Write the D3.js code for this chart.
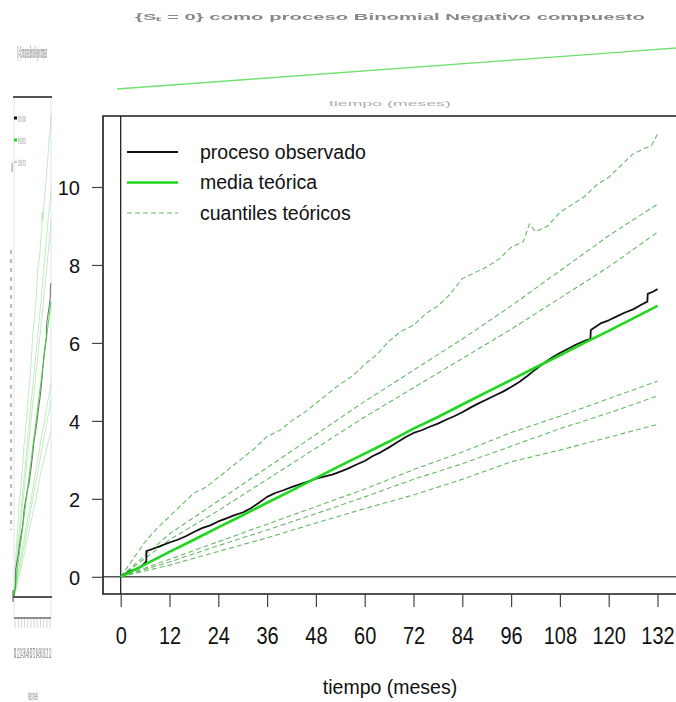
<!DOCTYPE html>
<html>
<head>
<meta charset="utf-8">
<script src="https://cdn.jsdelivr.net/npm/d3@7"></script>
<style>
  html, body { margin: 0; padding: 0; background: #fff; }
  svg { display: block; font-family: "Liberation Sans", Arial, sans-serif; }
</style>
</head>
<body>
<svg id="chart" width="676" height="702"></svg>
<script>
// ---- data -------------------------------------------------------------
const titleText = "{S\u209C = 0} como proceso Binomial Negativo compuesto";
const xLabel = "tiempo (meses)";
const legendLabels = ["proceso observado", "media teórica", "cuantiles teóricos"];

const xTicks = [0, 12, 24, 36, 48, 60, 72, 84, 96, 108, 120, 132];
const yTicks = [0, 2, 4, 6, 8, 10];

// observed counting process (months, accumulated value)
const obsT = [0, 1, 2, 3, 4, 5, 6, 6.3, 6.31, 8, 10, 12, 14, 16, 18, 20, 22, 24, 26, 28, 30, 32, 34, 36,
  38, 40, 42, 44, 46, 48, 50, 52, 54, 56, 58, 60, 62, 64, 66, 68, 70, 72, 74, 76, 78, 80, 82, 84,
  86, 88, 90, 92, 94, 96, 98, 100, 102, 104, 106, 108, 110, 112, 114, 115.5, 115.6, 118, 120, 122,
  124, 126, 128, 129.5, 129.6, 131, 132];
const obsV = [0, 0.07, 0.13, 0.17, 0.2, 0.26, 0.36, 0.4, 0.66, 0.72, 0.8, 0.88, 0.95, 1.04, 1.15, 1.25, 1.32, 1.42, 1.5, 1.58, 1.65, 1.76, 1.9, 2.05,
  2.15, 2.22, 2.3, 2.37, 2.44, 2.52, 2.57, 2.62, 2.7, 2.78, 2.88, 2.97, 3.1, 3.2, 3.32, 3.45, 3.58, 3.69, 3.76, 3.85, 3.93, 4.03, 4.12, 4.22,
  4.34, 4.45, 4.55, 4.65, 4.75, 4.87, 5.0, 5.15, 5.32, 5.48, 5.62, 5.74, 5.85, 5.96, 6.05, 6.1, 6.33, 6.5, 6.58, 6.68,
  6.78, 6.86, 6.98, 7.06, 7.26, 7.32, 7.38];

// theoretical mean
const meanT = [0, 6, 12, 18, 24, 30, 36, 42, 48, 54, 60, 66, 72, 78, 84, 90, 96, 102, 108, 114, 120, 126, 132];
const meanV = [0, 0.32, 0.64, 0.95, 1.27, 1.58, 1.9, 2.21, 2.53, 2.85, 3.16, 3.47, 3.8, 4.1, 4.42, 4.74, 5.05, 5.37, 5.68, 6.0, 6.31, 6.63, 6.95];

// theoretical quantiles, outermost upper band
const qUpT = [0, 3, 6, 9, 12, 15, 18, 21, 24, 27, 30, 33, 36, 39, 42, 45, 48, 51, 54, 57, 60, 63, 66, 69, 72, 75, 78,
  81, 84, 87, 90, 93, 96, 99, 100.5, 102, 105, 108, 111, 114, 117, 120, 123, 126, 129, 130.5, 132];
const qUpV = [0, 0.45, 0.9, 1.25, 1.55, 1.85, 2.15, 2.3, 2.55, 2.8, 3.05, 3.3, 3.6, 3.75, 4.0, 4.2, 4.45, 4.7, 4.95, 5.15, 5.45, 5.7, 6.05, 6.3, 6.45, 6.75, 6.95,
  7.25, 7.65, 7.8, 7.95, 8.15, 8.45, 8.6, 9.05, 8.85, 9.0, 9.35, 9.55, 9.75, 10.05, 10.25, 10.55, 10.85, 11.0, 11.06, 11.36];

// remaining quantile curves, sampled yearly
const qT = [0, 12, 24, 36, 48, 60, 72, 84, 96, 108, 120, 132];
const qUp2 = [0, 1.1, 1.95, 2.8, 3.65, 4.5, 5.3, 6.1, 6.95, 7.85, 8.75, 9.56];
const qUp3 = [0, 0.95, 1.7, 2.5, 3.3, 4.1, 4.85, 5.6, 6.35, 7.15, 7.95, 8.84];
const qLo1 = [0, 0.45, 0.9, 1.35, 1.8, 2.25, 2.75, 3.2, 3.7, 4.12, 4.57, 5.02];
const qLo2 = [0, 0.38, 0.8, 1.2, 1.62, 2.05, 2.5, 2.9, 3.35, 3.8, 4.2, 4.64];
const qLo3 = [0, 0.3, 0.65, 1.0, 1.38, 1.75, 2.1, 2.5, 2.95, 3.25, 3.58, 3.91];

// ---- helpers ----------------------------------------------------------
const zip = (ts, vs) => ts.map((t, i) => [t, vs[i]]);
const observed = zip(obsT, obsV);
const mean = zip(meanT, meanV);
const quantiles = [zip(qUpT, qUpV), zip(qT, qUp2), zip(qT, qUp3), zip(qT, qLo1), zip(qT, qLo2), zip(qT, qLo3)];

const GREEN = "#1ed81e";
const QGREEN = "#68b868";

const svg = d3.select("#chart");
const defs = svg.append("defs");
defs.append("filter").attr("id", "soft").append("feGaussianBlur").attr("stdDeviation", 0.6);
defs.append("filter").attr("id", "softer").append("feGaussianBlur").attr("stdDeviation", 0.35);

// ---- main panel -------------------------------------------------------
const x = d3.scaleLinear().domain([0, 132]).range([120.7, 657.5]);
const y = d3.scaleLinear().domain([0, 10]).range([576.8, 187]);
const box = { left: 103, top: 116, bottom: 594, right: 700 };

const line = (xs, ys) => d3.line().x(d => xs(d[0])).y(d => ys(d[1]));

const main = svg.append("g");

// reference lines at t = 0 and value = 0
main.append("line").attr("x1", box.left).attr("x2", box.right)
  .attr("y1", y(0)).attr("y2", y(0)).attr("stroke", "#555").attr("stroke-width", 1.6);
main.append("line").attr("x1", x(0)).attr("x2", x(0))
  .attr("y1", box.top).attr("y2", box.bottom).attr("stroke", "#111").attr("stroke-width", 1.2);

// quantile bands
main.selectAll("path.q").data(quantiles).join("path")
  .attr("class", "q")
  .attr("d", line(x, y))
  .attr("fill", "none")
  .attr("stroke", QGREEN)
  .attr("stroke-width", 1.1)
  .attr("stroke-dasharray", "5,3");

// observed process
main.append("path").datum(observed)
  .attr("d", line(x, y))
  .attr("fill", "none").attr("stroke", "#111").attr("stroke-width", 1.8)
  .attr("stroke-linejoin", "round");

// theoretical mean
main.append("path").datum(mean)
  .attr("d", line(x, y))
  .attr("fill", "none").attr("stroke", GREEN).attr("stroke-width", 2.6);

// frame (left, top, bottom)
main.append("path")
  .attr("d", `M${box.right},${box.top}H${box.left}V${box.bottom}H${box.right}`)
  .attr("fill", "none").attr("stroke", "#1a1a1a").attr("stroke-width", 1.6);

// x axis
const xAxis = main.append("g").attr("transform", `translate(0,${box.bottom})`)
  .call(d3.axisBottom(x).tickValues(xTicks).tickSize(13).tickPadding(0).tickFormat(d3.format("d")));
xAxis.select(".domain").remove();
xAxis.selectAll(".tick line").attr("stroke", "#444").attr("stroke-width", 1.2);
xAxis.selectAll(".tick text")
  .attr("y", 0).attr("dy", null)
  .attr("transform", "translate(0,50) scale(1,1.18)")
  .attr("fill", "#111")
  .style("font-size", "20px")
  .style("font-family", "'Liberation Sans', Arial, sans-serif");

// y axis
const yAxis = main.append("g").attr("transform", `translate(${box.left},0)`)
  .call(d3.axisLeft(y).tickValues(yTicks).tickSize(11).tickPadding(12).tickFormat(d3.format("d")));
yAxis.select(".domain").remove();
yAxis.selectAll(".tick line").attr("stroke", "#444").attr("stroke-width", 1.2);
yAxis.selectAll(".tick text")
  .attr("dy", "0.36em")
  .attr("fill", "#111")
  .style("font-size", "20px")
  .style("font-family", "'Liberation Sans', Arial, sans-serif");

// x axis title
main.append("text").attr("x", 390).attr("y", 694)
  .attr("text-anchor", "middle").attr("fill", "#111")
  .style("font-size", "19.5px").text(xLabel);

// legend
const legendStyles = [
  { stroke: "#111", width: 1.8, dash: null },
  { stroke: GREEN, width: 2.6, dash: null },
  { stroke: QGREEN, width: 1.1, dash: "5,3" }
];
const legend = main.append("g");
legendLabels.forEach((lab, i) => {
  const ly = 152 + i * 30.5;
  legend.append("line").attr("x1", 127).attr("x2", 178).attr("y1", ly).attr("y2", ly)
    .attr("stroke", legendStyles[i].stroke).attr("stroke-width", legendStyles[i].width)
    .attr("stroke-dasharray", legendStyles[i].dash);
  legend.append("text").attr("x", 200).attr("y", ly).attr("dy", "0.35em")
    .attr("fill", "#111").style("font-size", "19.5px").text(lab);
});

// ---- faded strip across the top ---------------------------------------
const topStrip = svg.append("g").attr("filter", "url(#soft)");
topStrip.append("text")
  .attr("x", 135).attr("y", 0)
  .attr("transform", "translate(0,20) scale(1,0.6)")
  .attr("textLength", 510).attr("lengthAdjust", "spacingAndGlyphs")
  .attr("fill", "#888").style("font-size", "15px").style("font-weight", "bold")
  .text(titleText);
const xTop = d3.scaleLinear().domain([0, 132]).range([117, 690]);
const yTop = d3.scaleLinear().domain([0, 6.95]).range([89, 47]);
topStrip.append("path").datum([mean[0], mean[mean.length - 1]])
  .attr("d", line(xTop, yTop))
  .attr("fill", "none").attr("stroke", "#6fe06f").attr("stroke-width", 1.3);
topStrip.append("text")
  .attr("x", 390).attr("y", 0)
  .attr("transform", "translate(0,106) scale(1,0.55)")
  .attr("text-anchor", "middle")
  .attr("textLength", 122).attr("lengthAdjust", "spacingAndGlyphs")
  .attr("fill", "#aaa").style("font-size", "13px")
  .text(xLabel);

// ---- compressed panel on the left -------------------------------------
const mini = svg.append("g").attr("filter", "url(#softer)");
const xm = d3.scaleLinear().domain([0, 132]).range([14, 51]);
const ym = d3.scaleLinear().domain([0, 11.36]).range([597, 114]);

mini.append("text").attr("x", 17).attr("y", 58)
  .attr("textLength", 30).attr("lengthAdjust", "spacingAndGlyphs")
  .attr("fill", "#666").style("font-size", "17px").text(titleText);

// light frame
mini.append("rect").attr("x", 14).attr("y", 97).attr("width", 37).attr("height", 521)
  .attr("fill", "none").attr("stroke", "#e2e2e2").attr("stroke-width", 1);
mini.append("line").attr("x1", 13).attr("x2", 52).attr("y1", 97).attr("y2", 97)
  .attr("stroke", "#222").attr("stroke-width", 1.5);

// legend keys
const miniKeys = [
  { c: "#111", h: 3 }, { c: GREEN, h: 3 }, { c: QGREEN, h: 1 }
];
miniKeys.forEach((k, i) => {
  const ky = 118 + i * 22;
  mini.append("rect").attr("x", 14).attr("y", ky - k.h / 2).attr("width", 3).attr("height", k.h).attr("fill", k.c);
  mini.append("text").attr("x", 18).attr("y", ky + 4)
    .attr("textLength", 8).attr("lengthAdjust", "spacingAndGlyphs")
    .attr("fill", "#999").style("font-size", "11px").text(legendLabels[i]);
});

// squeezed vertical axis title
mini.append("line").attr("x1", 11).attr("x2", 11).attr("y1", 250).attr("y2", 530)
  .attr("stroke", "#666").attr("stroke-width", 0.9).attr("stroke-dasharray", "4,5");
mini.append("line").attr("x1", 12).attr("x2", 12).attr("y1", 163).attr("y2", 172)
  .attr("stroke", "#777").attr("stroke-width", 0.8);

mini.selectAll("path.mq").data(quantiles).join("path")
  .attr("class", "mq")
  .attr("d", line(xm, ym))
  .attr("fill", "none").attr("stroke", "#a6e2a6").attr("stroke-width", 0.7);
mini.append("path").datum(observed).attr("d", line(xm, ym))
  .attr("fill", "none").attr("stroke", "#444").attr("stroke-width", 0.8);
mini.append("path").datum(mean).attr("d", line(xm, ym))
  .attr("fill", "none").attr("stroke", GREEN).attr("stroke-width", 0.8);

mini.append("line").attr("x1", 13).attr("x2", 52).attr("y1", ym(0)).attr("y2", ym(0))
  .attr("stroke", "#555").attr("stroke-width", 2);
mini.append("line").attr("x1", 13).attr("x2", 13).attr("y1", 590).attr("y2", 602)
  .attr("stroke", "#555").attr("stroke-width", 1);

// squeezed time axis
mini.append("line").attr("x1", 14).attr("x2", 51).attr("y1", 618).attr("y2", 618)
  .attr("stroke", "#333").attr("stroke-width", 1.2);
const miniTick = d3.scaleLinear().domain([0, 132]).range([15, 50]);
mini.selectAll("line.mt").data(xTicks).join("line").attr("class", "mt")
  .attr("x1", d => miniTick(d)).attr("x2", d => miniTick(d))
  .attr("y1", 619).attr("y2", 628).attr("stroke", "#bbb").attr("stroke-width", 0.6);
mini.selectAll("text.mt").data(xTicks).join("text").attr("class", "mt")
  .attr("transform", d => `translate(${miniTick(d)},658) scale(${2.4 / (String(d).length * 7.5)},1)`)
  .attr("text-anchor", "middle").attr("fill", "#666").style("font-size", "14px")
  .text(d => d);
mini.append("text").attr("x", 28).attr("y", 700)
  .attr("textLength", 10).attr("lengthAdjust", "spacingAndGlyphs")
  .attr("fill", "#777").style("font-size", "13px").text(xLabel);
</script>
</body>
</html>
